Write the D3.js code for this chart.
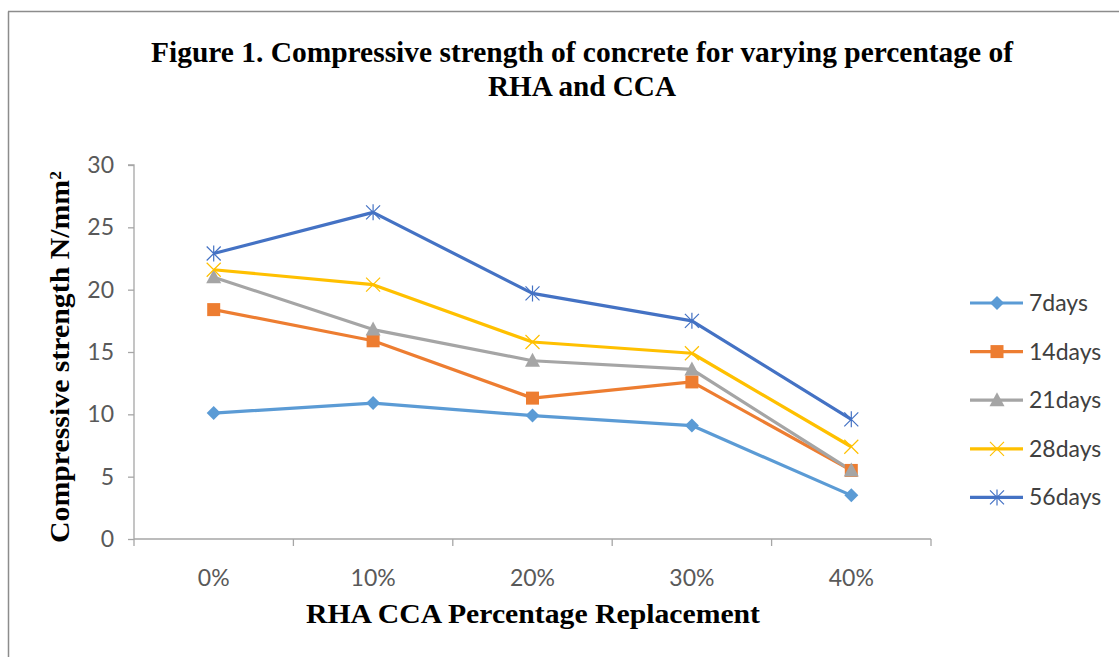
<!DOCTYPE html>
<html><head><meta charset="utf-8">
<script src="https://cdn.jsdelivr.net/npm/d3@7"></script>
<style>html,body{margin:0;padding:0;background:#fff;}</style>
</head><body>
<svg id="chart" width="1119" height="657"></svg>
<script>
const categories = ["0%", "10%", "20%", "30%", "40%"];
const seriesNames = ["7days", "14days", "21days", "28days", "56days"];
const days7  = [10.1, 10.9, 9.9, 9.1, 3.5];
const days14 = [18.4, 15.9, 11.3, 12.6, 5.5];
const days21 = [21.0, 16.8, 14.3, 13.6, 5.5];
const days28 = [21.6, 20.4, 15.8, 14.9, 7.4];
const days56 = [22.9, 26.2, 19.7, 17.5, 9.6];
const yTicks = [0, 5, 10, 15, 20, 25, 30];
const colors = ["#5B9BD5", "#ED7D31", "#A5A5A5", "#FFC000", "#4472C4"];
const markers = ["diamond", "square", "triangle", "x", "star"];
const seriesValues = [days7, days14, days21, days28, days56];

const svg = d3.select("#chart");
// outer frame (left & top edges visible)
svg.append("line").attr("x1", 8.5).attr("x2", 8.5).attr("y1", 11.5).attr("y2", 657).attr("stroke", "#8c8c8c").attr("stroke-width", 1.5);
svg.append("line").attr("x1", 8).attr("x2", 1119).attr("y1", 11.5).attr("y2", 11.5).attr("stroke", "#8c8c8c").attr("stroke-width", 1.5);

const pLeft = 134, pRight = 931, pTop = 165, pBottom = 539;
const x = d3.scaleBand().domain(categories).range([pLeft, pRight]);
const y = d3.scaleLinear().domain([0, 30]).range([pBottom, pTop]);

// title
const title = svg.append("g").attr("font-family", "'Liberation Serif', 'Times New Roman', serif").attr("font-weight", "bold").attr("fill", "#000");
title.append("text").attr("x", 582).attr("y", 62).attr("text-anchor", "middle").attr("font-size", 28.5)
  .attr("textLength", 862).attr("lengthAdjust", "spacingAndGlyphs")
  .text("Figure 1. Compressive strength of concrete for varying percentage of");
title.append("text").attr("x", 582).attr("y", 96).attr("text-anchor", "middle").attr("font-size", 28.5)
  .attr("textLength", 188).attr("lengthAdjust", "spacingAndGlyphs")
  .text("RHA and CCA");

// axes
const axisColor = "#a6a6a6";
const yAxis = svg.append("g").attr("transform", `translate(${pLeft},0)`)
  .call(d3.axisLeft(y).tickValues(yTicks).tickSize(6).tickPadding(14).tickFormat(d3.format("d")));
const xAxis = svg.append("g").attr("transform", `translate(0,${pBottom})`)
  .call(d3.axisBottom(x).tickSize(0).tickPadding(31));
[yAxis, xAxis].forEach(g => {
  g.select(".domain").attr("stroke", axisColor).attr("stroke-width", 1.3);
  g.selectAll(".tick line").attr("stroke", axisColor).attr("stroke-width", 1.3);
  g.selectAll("text").attr("font-family", "Lato, 'Open Sans', sans-serif").attr("font-size", 23).attr("fill", "#595959");
});
yAxis.select(".domain").attr("d", `M-6,${pTop}H0V${pBottom}`);
// category boundary ticks on x axis
const bounds = categories.map(c => x(c)).concat([x(categories[categories.length - 1]) + x.bandwidth()]);
xAxis.selectAll(".bound").data(bounds).enter().append("line")
  .attr("x1", d => d).attr("x2", d => d).attr("y1", 0).attr("y2", 7)
  .attr("stroke", axisColor).attr("stroke-width", 1.3);
xAxis.select(".domain").attr("d", `M${pLeft},0H${pRight}`);

// axis titles
svg.append("text").attr("x", 533).attr("y", 623).attr("text-anchor", "middle")
  .attr("font-family", "'Liberation Serif', serif").attr("font-weight", "bold").attr("font-size", 27)
  .attr("textLength", 454).attr("lengthAdjust", "spacingAndGlyphs")
  .text("RHA CCA Percentage Replacement");
const yt = svg.append("text").attr("transform", "translate(69,357) rotate(-90)").attr("text-anchor", "middle")
  .attr("font-family", "'Liberation Serif', serif").attr("font-weight", "bold").attr("font-size", 27)
  .attr("textLength", 372).attr("lengthAdjust", "spacingAndGlyphs");
yt.append("tspan").text("Compressive strength N/mm");
yt.append("tspan").attr("baseline-shift", "super").attr("font-size", 16).text("2");

// marker drawing
function drawMarker(g, type, color, cx, cy) {
  if (type === "diamond") {
    g.append("path").attr("d", `M${cx},${cy - 7}L${cx + 7},${cy}L${cx},${cy + 7}L${cx - 7},${cy}Z`).attr("fill", color);
  } else if (type === "square") {
    g.append("rect").attr("x", cx - 6.5).attr("y", cy - 6.5).attr("width", 13).attr("height", 13).attr("fill", color);
  } else if (type === "triangle") {
    g.append("path").attr("d", `M${cx},${cy - 8}L${cx + 7.5},${cy + 6}L${cx - 7.5},${cy + 6}Z`).attr("fill", color);
  } else if (type === "x") {
    g.append("path").attr("d", `M${cx - 7},${cy - 7}L${cx + 7},${cy + 7}M${cx - 7},${cy + 7}L${cx + 7},${cy - 7}`).attr("stroke", color).attr("stroke-width", 1.2).attr("fill", "none");
  } else if (type === "star") {
    g.append("path").attr("d", `M${cx - 7},${cy - 7}L${cx + 7},${cy + 7}M${cx - 7},${cy + 7}L${cx + 7},${cy - 7}M${cx},${cy - 8}L${cx},${cy + 8}`).attr("stroke", color).attr("stroke-width", 1.2).attr("fill", "none");
  }
}

const line = d3.line().x((d, i) => x(categories[i]) + x.bandwidth() / 2).y(d => y(d));
const plot = svg.append("g");
seriesValues.forEach((vals, s) => {
  plot.append("path").datum(vals).attr("d", line).attr("fill", "none")
    .attr("stroke", colors[s]).attr("stroke-width", 3.2).attr("stroke-linejoin", "round");
});
seriesValues.forEach((vals, s) => {
  const g = plot.append("g");
  vals.forEach((v, i) => drawMarker(g, markers[s], colors[s], x(categories[i]) + x.bandwidth() / 2, y(v)));
});

// legend
const legend = svg.append("g");
seriesNames.forEach((name, s) => {
  const ly = 303 + s * 48.6;
  legend.append("line").attr("x1", 970).attr("x2", 1023).attr("y1", ly).attr("y2", ly).attr("stroke", colors[s]).attr("stroke-width", 3.2);
  drawMarker(legend, markers[s], colors[s], 997, ly);
  legend.append("text").attr("x", 1029).attr("y", ly + 8).attr("font-family", "Lato, 'Open Sans', sans-serif")
    .attr("font-size", 23).attr("fill", "#404040").text(name);
});
</script>
</body></html>
